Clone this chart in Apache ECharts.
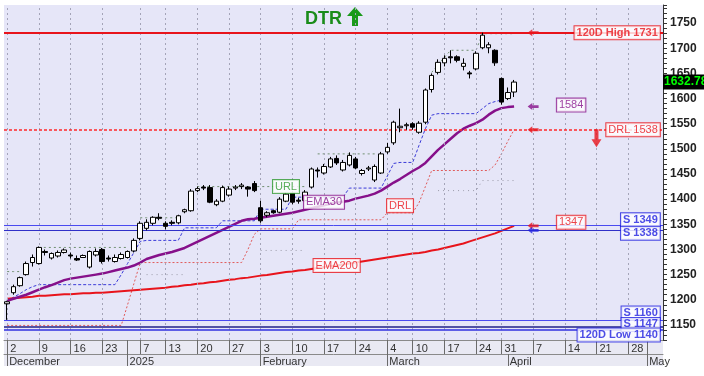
<!DOCTYPE html>
<html>
<head>
<meta charset="utf-8">
<script src="https://cdn.jsdelivr.net/npm/echarts@6.0.0/dist/echarts.min.js"></script>
<style>
  html, body { margin: 0; padding: 0; background: #fff; }
  #chart { width: 704px; height: 376px; }
</style>
</head>
<body>
<div id="chart"></div>
<script>
  // ---- calendar ----
  var firstDay = '2024-12-02';
  var lastDay = '2025-05-06';
  var holidays = ['2024-12-25', '2024-12-26', '2024-12-31', '2025-01-01', '2025-01-06',
    '2025-03-03', '2025-03-28', '2025-05-01'];

  var dayTicks = ['2024-12-02', '2024-12-09', '2024-12-16', '2024-12-23', '2025-01-02', '2025-01-07',
    '2025-01-13', '2025-01-20', '2025-01-27', '2025-02-03', '2025-02-10', '2025-02-17', '2025-02-24',
    '2025-03-04', '2025-03-10', '2025-03-17', '2025-03-24', '2025-03-31', '2025-04-07', '2025-04-14',
    '2025-04-21', '2025-04-28', '2025-05-02'];
  var dayTickLabels = ['2', '9', '16', '23', '', '7', '13', '20', '27', '3', '10', '17', '24',
    '4', '10', '17', '24', '31', '7', '14', '21', '28', ''];
  var monthTicks = ['2024-12-02', '2025-01-02', '2025-02-03', '2025-03-04', '2025-04-01', '2025-05-02'];
  var monthLabels = ['December', '2025', 'February', 'March', 'April', 'May'];

  // ---- prices (open / close / low / high) ----
  var opens = [1192, 1214, 1228, 1250, 1274, 1272, 1296, 1283, 1287, 1294, 1289, 1282, 1284, 1265, 1289,
    1300, 1283, 1276, 1282, 1284, 1297, 1322, 1342, 1352, 1364, 1352, 1354, 1353, 1375, 1377,
    1417, 1424, 1423, 1389, 1396, 1408, 1422, 1425, 1424, 1431, 1383, 1368, 1377, 1374, 1396,
    1412, 1398, 1397, 1424, 1458, 1452, 1464, 1481, 1458, 1468, 1480, 1451, 1460, 1438, 1452,
    1494, 1512, 1542, 1546, 1550, 1533, 1553, 1618, 1652, 1671, 1683, 1683, 1664, 1651, 1659,
    1701, 1701, 1696, 1640, 1600, 1613];
  var closes = [1196, 1226, 1244, 1272, 1284, 1304, 1294, 1292, 1294, 1299, 1287, 1279, 1288, 1296, 1296,
    1276, 1281, 1284, 1290, 1296, 1318, 1352, 1354, 1364, 1362, 1346, 1352, 1367, 1379, 1416,
    1421, 1422, 1394, 1396, 1423, 1420, 1424, 1428, 1420, 1417, 1357, 1373, 1373, 1400, 1410,
    1394, 1396, 1414, 1460, 1456, 1465, 1480, 1472, 1473, 1487, 1462, 1457, 1462, 1465, 1490,
    1503, 1553, 1545, 1548, 1543, 1551, 1617, 1646, 1672, 1680, 1681, 1676, 1670, 1649, 1690,
    1726, 1707, 1671, 1593, 1612, 1632.78];
  var lows = [1160, 1210, 1226, 1248, 1266, 1270, 1288, 1280, 1284, 1292, 1282, 1277, 1283, 1262, 1286,
    1272, 1276, 1274, 1280, 1282, 1294, 1318, 1338, 1348, 1358, 1340, 1348, 1350, 1372, 1375,
    1414, 1418, 1392, 1386, 1394, 1405, 1418, 1420, 1405, 1414, 1353, 1364, 1371, 1372, 1394,
    1390, 1391, 1395, 1421, 1443, 1449, 1462, 1468, 1455, 1465, 1460, 1447, 1456, 1434, 1450,
    1490, 1508, 1533, 1538, 1538, 1530, 1549, 1612, 1648, 1664, 1670, 1672, 1656, 1640, 1656,
    1698, 1690, 1665, 1588, 1597, 1603];
  var highs = [1198, 1230, 1246, 1276, 1290, 1306, 1300, 1294, 1298, 1302, 1294, 1288, 1290, 1298, 1302,
    1303, 1288, 1290, 1294, 1298, 1322, 1356, 1360, 1366, 1372, 1356, 1358, 1369, 1381, 1420,
    1425, 1428, 1428, 1400, 1427, 1425, 1428, 1432, 1426, 1436, 1397, 1376, 1379, 1404, 1414,
    1415, 1403, 1418, 1463, 1463, 1470, 1484, 1487, 1478, 1493, 1484, 1460, 1466, 1469, 1494,
    1512, 1556, 1580, 1552, 1553, 1555, 1620, 1650, 1678, 1686, 1696, 1686, 1680, 1655, 1694,
    1731, 1712, 1698, 1642, 1622, 1637];

  // ---- indicator lines ----
  var ema30 = [1198, 1202, 1206, 1210, 1215, 1220, 1225, 1229, 1234, 1239, 1242, 1244, 1246, 1248, 1250,
    1252, 1255, 1258, 1261, 1264, 1268, 1274, 1281, 1285, 1289, 1292, 1295, 1299, 1303, 1309,
    1315, 1321, 1327, 1333, 1339, 1345, 1351, 1357, 1360, 1361, 1363, 1365, 1367, 1369, 1371,
    1373, 1376, 1379, 1382, 1385, 1388, 1391, 1393, 1395, 1397, 1401, 1404, 1407, 1411, 1417,
    1425, 1433, 1440, 1448, 1456, 1463, 1472, 1485, 1498, 1509, 1520, 1531, 1540, 1546, 1551,
    1558, 1568, 1576, 1581, 1583, 1584];
  var ema200 = [1202, 1203, 1204, 1205, 1206, 1208, 1208, 1209, 1210, 1211, 1211, 1212, 1213, 1213, 1214,
    1214, 1215, 1216, 1217, 1218, 1219, 1220, 1221, 1222, 1223, 1224, 1226, 1227, 1229, 1230,
    1232, 1233, 1235, 1236, 1238, 1240, 1241, 1243, 1244, 1246, 1248, 1249, 1251, 1253, 1255,
    1256, 1258, 1259, 1261, 1263, 1265, 1267, 1268, 1270, 1272, 1274, 1276, 1278, 1280, 1282,
    1284, 1286, 1288, 1290, 1292, 1293, 1295, 1298, 1300, 1303, 1306, 1309, 1312, 1316, 1320,
    1324, 1328, 1332, 1337, 1342, 1347];
  var trailStop = [1198, 1205, 1212, 1220, 1226, 1230, 1230, 1230, 1230, 1230, 1230, 1230, 1230, 1230, 1230,
    1230, 1230, 1230, 1250, 1272, 1294, 1316, 1318, 1318, 1318, 1318, 1318, 1318, 1343, 1343,
    1343, 1343, 1343, 1343, 1357, 1357, 1357, 1357, 1357, 1357, 1380, 1380, 1380, 1380, 1380,
    1404, 1404, 1404, 1404, 1404, 1404, 1404, 1404, 1404, 1422, 1422, 1422, 1422, 1422, 1422,
    1446, 1471, 1473, 1473, 1473, 1507, 1540, 1567, 1570, 1570, 1570, 1570, 1570, 1570, 1570,
    1580, 1590, 1594, 1597, null, null];
  var drl = [1149, 1149, 1149, 1149, 1149, 1149, 1149, 1149, 1149, 1149, 1149, 1149, 1149, 1149, 1149,
    1149, 1149, 1149, 1149, 1190, 1232, 1274, 1274, 1274, 1274, 1274, 1274, 1274, 1274, 1274,
    1274, 1274, 1274, 1274, 1274, 1274, 1274, 1274, 1300, 1330, 1341, 1341, 1341, 1341, 1341,
    1341, 1359, 1359, 1359, 1359, 1359, 1359, 1359, 1359, 1359, 1359, 1359, 1359, 1359, 1359,
    1373, 1373, 1373, 1373, 1373, 1393, 1425, 1457, 1457, 1457, 1457, 1457, 1457, 1457, 1457,
    1457, 1457, 1468, 1490, 1515, 1538];
  var url = [1256, 1256, 1256, null, null, 1304, 1304, 1304, 1304, 1304, 1304, 1304, 1304, 1304, 1304,
    1304, 1304, 1304, 1304, 1304, null, 1363, 1363, 1363, 1363, 1363, 1363, 1363, null, null,
    1425, 1425, 1425, 1425, 1425, 1425, 1425, 1425, 1425, 1425, 1425, 1425, 1425, 1425, 1425,
    1425, 1425, 1425, null, 1490, 1490, 1490, 1490, 1490, 1490, 1490, 1490, 1490, 1490, null,
    null, null, null, null, null, null, null, 1652, 1668, 1682, 1696, 1696, 1696, 1696, 1696,
    1729, 1729, 1729, 1729, 1729, 1729];
  var midLevel = [null, null, null, null, null, null, null, null, null, null, null, null, null, null, null,
    null, null, null, null, null, null, null, 1250, 1250, 1250, 1250, 1250, 1250, 1250, null,
    null, null, null, null, null, null, null, null, null, null, 1298, 1298, 1298, 1298, 1298,
    1298, 1298, 1298, null, null, null, null, null, null, null, null, null, null, null, null,
    null, null, null, null, null, null, null, null, 1417, 1417, 1417, 1417, 1417, 1417, 1417,
    1437, 1437, 1437, 1437, 1437, 1437];

  // ---- horizontal levels ----
  var high120 = 1731, low120 = 1140;
  var supports = [1349, 1338, 1160, 1147];
  var lastEma30 = 1584, lastEma200 = 1347, lastDrl = 1538;
  var lastClose = 1632.78;

  function tradingDays() {
    var out = [];
    var d = new Date(firstDay + 'T00:00:00Z');
    var end = new Date(lastDay + 'T00:00:00Z');
    while (d <= end) {
      var s = d.toISOString().slice(0, 10);
      var wd = d.getUTCDay();
      if (wd !== 0 && wd !== 6 && holidays.indexOf(s) < 0) out.push(s);
      d.setUTCDate(d.getUTCDate() + 1);
    }
    return out;
  }
  var days = tradingDays();

  var dayTickIdx = {}, dayLabelIdx = {}, monthIdx = {};
  var gridDays = [];
  dayTicks.forEach(function (t, k) {
    var i = days.indexOf(t);
    dayTickIdx[i] = true;
    if (dayTickLabels[k]) { dayLabelIdx[i] = dayTickLabels[k]; gridDays.push(t); }
  });
  monthTicks.forEach(function (t, k) { monthIdx[days.indexOf(t)] = monthLabels[k]; });

  var candles = opens.map(function (o, i) { return [o, closes[i], lows[i], highs[i]]; });

  var FONT = 'Liberation Sans';
  function box(color, bold) {
    return {
      show: true, color: color, borderColor: color, borderWidth: 1, backgroundColor: '#fff',
      padding: [1, 2, 0, 2], fontSize: 11, fontFamily: FONT, fontWeight: bold ? 'bold' : 'normal',
      lineHeight: 12
    };
  }
  function tag(x, y, text, color, bold, pos, offset) {
    var l = box(color, bold);
    l.formatter = text;
    l.position = pos || 'inside';
    l.distance = 0;
    if (offset) l.offset = offset;
    return { value: [x, y], label: l };
  }
  var lastIdx = days.length - 1;
  var arrowIdx = days.indexOf('2025-04-07');
  var boxIdx = days.indexOf('2025-04-15');

  var leftArrow = 'path://M0,5 L6,0 L6,3 L14,3 L14,7 L6,7 L6,10 Z';
  var downArrow = 'path://M3,0 L7,0 L7,10 L10,10 L5,18 L0,10 L3,10 Z';

  function lineSeries(name, data, color, width, type, z) {
    return {
      name: name, type: 'line', data: data, symbol: 'none', connectNulls: false, silent: true,
      lineStyle: { color: color, width: width, type: type }, z: z || 2, animation: false
    };
  }

  var gridSeries = lineSeries('grid', [], '#000', 0, 'solid', 1);
  gridSeries.markLine = {
    silent: true, symbol: 'none', animation: false, label: { show: false },
    lineStyle: { color: '#a4a4b8', width: 1, type: [2, 3] },
    data: gridDays.map(function (d) { return { xAxis: d }; })
  };

  // current DRL level drawn as its own dotted red line
  var drlLevel = lineSeries('drl level', [], '#ff2a2a', 1.5, [3, 2], 2);
  drlLevel.markLine = {
    silent: true, symbol: 'none', animation: false, label: { show: false },
    lineStyle: { color: '#ff2a2a', width: 1.5, type: [3, 2], opacity: 1 },
    data: [{ yAxis: lastDrl }]
  };

  var chart = echarts.init(document.getElementById('chart'));
  chart.setOption({
    animation: false,
    backgroundColor: '#fff',
    title: {
      text: 'DTR', left: 305, top: 10, padding: 0,
      textStyle: { color: '#1a8c1a', fontSize: 18, fontWeight: 'bold', fontFamily: FONT }
    },
    graphic: [
      { type: 'rect', z: -10, shape: { x: 4, y: 340, width: 659, height: 26 }, style: { fill: '#e9e9f3' } },
      { type: 'polygon', shape: { points: [[355, 7], [363, 16], [358, 16], [358, 26], [352, 26], [352, 16], [347, 16]] },
        style: { fill: '#1a9a1a' } }
    ],
    grid: {
      left: 4, right: 41, top: 5, bottom: 36, show: true, backgroundColor: '#e6e6f8',
      borderWidth: 0, outerBoundsMode: 'none'
    },
    xAxis: [{
      type: 'category', data: days, boundaryGap: true,
      axisLine: { show: true, lineStyle: { color: '#8a8a8a', width: 1 } },
      axisTick: {
        show: true, alignWithLabel: true, length: 14, lineStyle: { color: '#6a6a6a' },
        interval: function (i) { return !!dayTickIdx[i]; }
      },
      axisLabel: {
        interval: function (i) { return !!dayTickIdx[i]; },
        formatter: function (v, i) { return dayLabelIdx[i] || ''; },
        align: 'left', padding: [0, 0, 0, 3], margin: 3,
        color: '#333', fontSize: 11, fontFamily: FONT
      },
      splitLine: { show: false }
    }, {
      type: 'category', data: days, boundaryGap: true, position: 'bottom', offset: 14,
      axisLine: { show: true, lineStyle: { color: '#8a8a8a', width: 1 } },
      axisTick: {
        show: true, alignWithLabel: true, length: 12, lineStyle: { color: '#6a6a6a' },
        interval: function (i) { return monthIdx[i] !== undefined; }
      },
      axisLabel: {
        interval: function (i) { return monthIdx[i] !== undefined; },
        formatter: function (v, i) { return monthIdx[i] || ''; },
        align: 'left', padding: [0, 0, 0, 2], margin: 2,
        color: '#333', fontSize: 11, fontFamily: FONT
      },
      splitLine: { show: false }
    }],
    yAxis: {
      type: 'value', position: 'right', min: 1120, max: 1786, interval: 10, scale: true,
      axisLine: { show: true, lineStyle: { color: '#333', width: 1 } },
      axisTick: { show: true, length: 4, lineStyle: { color: '#333' } },
      axisLabel: {
        formatter: function (v) { return v % 50 === 0 ? String(v) : ''; },
        color: '#222', fontSize: 12, fontWeight: 'bold', fontFamily: FONT, margin: 7
      },
      splitLine: { show: false }
    },
    series: [
      gridSeries,
      drlLevel,
      lineSeries('mid', midLevel, '#9a9aa8', 1, [1, 4], 2),
      lineSeries('URL line', url, '#6f8f6f', 1, [2, 3], 2),
      lineSeries('DRL line', drl, '#e05a5a', 1, [2, 2], 2),
      lineSeries('trail', trailStop, '#3a3ad8', 1, [3, 2], 2),
      lineSeries('EMA200', ema200, '#e8141c', 2, 'solid', 3),
      lineSeries('EMA30', ema30, '#86108a', 2.5, 'solid', 3),
      {
        name: 'price', type: 'candlestick', data: candles, barWidth: 5, z: 5,
        itemStyle: { color: '#fff', color0: '#000', borderColor: '#000', borderColor0: '#000', borderWidth: 1 },
        markLine: {
          silent: true, symbol: 'none', animation: false,
          label: { show: false },
          data: [
            { yAxis: high120, lineStyle: { color: '#e8141c', width: 2, type: 'solid' } },
            { yAxis: supports[0], lineStyle: { color: '#4a4af0', width: 1, type: 'solid' } },
            { yAxis: supports[1], lineStyle: { color: '#3030c8', width: 1.2, type: 'solid' } },
            { yAxis: supports[2], lineStyle: { color: '#4a4af0', width: 1, type: 'solid' } },
            { yAxis: supports[3], lineStyle: { color: '#20208a', width: 1.5, type: 'solid' } },
            { yAxis: low120, lineStyle: { color: '#3030e0', width: 1.5, type: 'solid' } },
            {
              yAxis: lastClose, lineStyle: { color: 'rgba(0,0,0,0)', width: 1 },
              label: {
                show: true, position: 'end', distance: 0, formatter: String(lastClose),
                color: '#00ff00', backgroundColor: '#000', padding: [2, 1, 1, 1],
                fontSize: 12, fontWeight: 'bold', fontFamily: FONT
              }
            }
          ]
        }
      },
      {
        name: 'arrows', type: 'scatter', silent: true, z: 8,
        data: [
          { value: [arrowIdx, high120], itemStyle: { color: '#e8141c' } },
          { value: [arrowIdx, lastEma30], itemStyle: { color: '#86108a' } },
          { value: [arrowIdx, lastDrl], itemStyle: { color: '#e8141c' } },
          { value: [arrowIdx, lastEma200], itemStyle: { color: '#e8141c' } },
          { value: [arrowIdx, supports[1]], itemStyle: { color: '#2020e0' } }
        ],
        symbol: leftArrow, symbolSize: [11, 7]
      },
      {
        name: 'drop', type: 'scatter', silent: true, z: 8,
        data: [{ value: [days.indexOf('2025-04-21'), lastDrl - 17], itemStyle: { color: '#e8141c' } }],
        symbol: downArrow, symbolSize: [10, 18]
      },
      {
        name: 'tags', type: 'scatter', silent: true, z: 20, symbolSize: 0,
        data: [
          tag(44, 1425, 'URL', '#2f9a2f', false),
          tag(50, 1394, 'EMA30', '#86108a', false),
          tag(62, 1387, 'DRL', '#e8141c', false),
          tag(52, 1268, 'EMA200', '#e8141c', false),
          tag(boxIdx, lastEma30 + 3, String(lastEma30), '#86108a', false),
          tag(boxIdx, lastEma200 + 7, String(lastEma200), '#e8141c', false),
          tag(lastIdx, high120, '120D High ' + high120, '#e8141c', true, 'left'),
          tag(lastIdx, lastDrl, 'DRL ' + lastDrl, '#e8141c', false, 'left'),
          tag(lastIdx, supports[0], 'S ' + supports[0], '#2020e0', true, 'left', [0, -5]),
          tag(lastIdx, supports[1], 'S ' + supports[1], '#2020e0', true, 'left', [0, 3]),
          tag(lastIdx, supports[2], 'S ' + supports[2], '#2020e0', true, 'left', [0, -7]),
          tag(lastIdx, supports[3], 'S ' + supports[3], '#2020e0', true, 'left', [0, -2]),
          tag(lastIdx, low120, '120D Low ' + low120, '#2020e0', true, 'left', [0, 5])
        ]
      }
    ]
  });
</script>
</body>
</html>
